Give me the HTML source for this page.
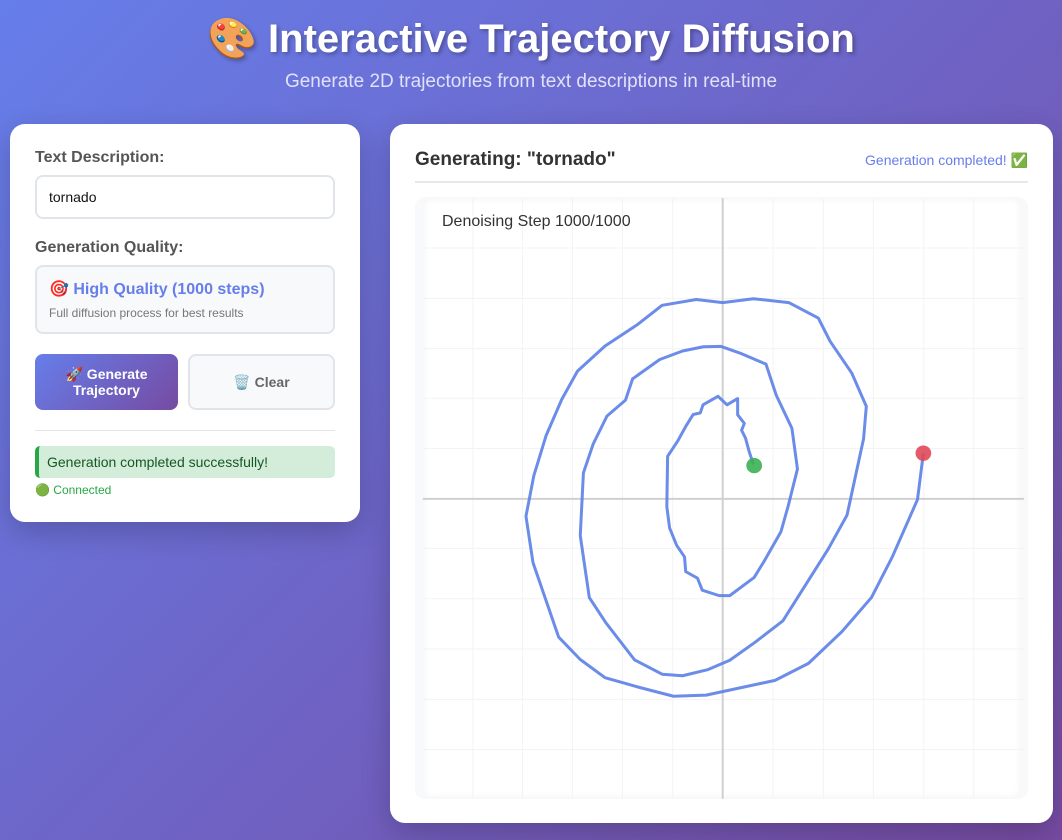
<!DOCTYPE html>
<html><head><meta charset="utf-8"><style>
*{box-sizing:border-box;margin:0;padding:0}
body{width:1062px;height:840px;overflow:hidden;font-family:"Liberation Sans","Noto Sans CJK SC",sans-serif;background:linear-gradient(135deg,#667eea 0%,#764ba2 100%);position:relative}
h1{position:absolute;top:15px;left:0;width:1062px;text-align:center;color:#fff;font-size:40px;font-weight:bold;text-shadow:2px 2px 4px rgba(0,0,0,.3)}
.sub{position:absolute;top:71px;left:0;width:1062px;text-align:center;color:#eef;font-size:19px;opacity:.9}
.card{position:absolute;background:#fff;border-radius:15px;box-shadow:0 10px 30px rgba(0,0,0,.2)}
.lbl{position:absolute;left:25px;font-size:16px;font-weight:bold;color:#555}
.inp{position:absolute;left:25px;width:300px;border:2px solid #e1e5e9;border-radius:8px}
</style></head><body>
<h1>🎨 Interactive Trajectory Diffusion</h1>
<div class="sub">Generate 2D trajectories from text descriptions in real-time</div>
<div class="card" style="left:10px;top:124px;width:350px;height:398px">
 <div class="lbl" style="top:25px">Text Description:</div>
 <div class="inp" style="top:51px;height:44px;padding:12px 12px;font-size:14px;color:#111">tornado</div>
 <div class="lbl" style="top:115px">Generation Quality:</div>
 <div class="inp" style="top:141px;height:69px;background:#f8f9fa;padding:12px 12px">
  <div style="color:#667eea;font-weight:bold;font-size:16px">🎯 High Quality (1000 steps)</div>
  <div style="color:#777;font-size:12px;margin-top:7px">Full diffusion process for best results</div>
 </div>
 <div style="position:absolute;left:25px;top:230px;width:143px;height:56px;border-radius:8px;background:linear-gradient(135deg,#667eea,#764ba2);color:#fff;font-weight:bold;font-size:14px;text-align:center;padding-top:12px;line-height:16px">🚀 Generate<br>Trajectory</div>
 <div style="position:absolute;left:178px;top:230px;width:147px;height:56px;border-radius:8px;background:#f8f9fa;border:2px solid #e1e5e9;color:#666;font-weight:bold;font-size:14px;text-align:center;line-height:52px">🗑️ Clear</div>
 <div style="position:absolute;left:25px;top:306px;width:300px;height:1px;background:#e5e5e5"></div>
 <div style="position:absolute;left:25px;top:322px;width:300px;height:32px;background:#d4edda;border-left:4px solid #28a745;border-radius:5px;color:#155724;font-size:14px;line-height:32px;padding-left:8px">Generation completed successfully!</div>
 <div style="position:absolute;left:25px;top:359px;font-size:12px;color:#28a745">🟢 Connected</div>
</div>
<div class="card" style="left:390px;top:124px;width:663px;height:699px">
 <div style="position:absolute;left:25px;top:25px;font-size:19px;font-weight:bold;color:#333">Generating: "tornado"</div>
 <div style="position:absolute;right:25px;top:28px;font-size:14px;color:#667eea">Generation completed! ✅</div>
 <div style="position:absolute;left:25px;top:57px;width:613px;height:2px;background:#e8e8e8"></div>
 <div style="position:absolute;left:25px;top:73px;width:613px;height:602px;background:#f8f9fa;border-radius:10px"></div>
 <div style="position:absolute;left:33px;top:74px;width:598px;height:600px;background:#fff;border-radius:6px;box-shadow:inset 0 0 8px rgba(0,0,0,.06)"></div>
</div>
<svg style="position:absolute;left:415px;top:195px" width="615" height="605" viewBox="0 0 1563 1563" preserveAspectRatio="none">
 <path vector-effect="non-scaling-stroke" stroke="#f3f3f3" stroke-width="1" d="M147 8V1560M273 8V1560M400 8V1560M527 8V1560M655 8V1560M910 8V1560M1038 8V1560M1165 8V1560M1293 8V1560M1420 8V1560M20 137H1548M20 267H1548M20 397H1548M20 525H1548M20 655H1548M20 913H1548M20 1043H1548M20 1173H1548M20 1303H1548M20 1433H1548"/>
 <path vector-effect="non-scaling-stroke" stroke="#d0d0d0" stroke-width="2" d="M782 8V1560M20 785H1548"/>
 <polyline vector-effect="non-scaling-stroke" fill="none" stroke="#5b7fe6" stroke-width="3" stroke-linejoin="round" stroke-opacity=".9" points="1292,667 1277,787 1213,935 1160,1040 1085,1128 1000,1210 915,1254 740,1292 657,1295 570,1272 483,1247 420,1200 365,1142 300,950 282,830 302,725 333,622 373,528 413,455 483,390 565,335 628,285 715,270 782,278 860,268 950,278 1025,318 1055,378 1110,460 1147,546 1140,630 1098,827 1050,915 935,1100 865,1155 800,1202 745,1226 680,1242 628,1238 558,1201 485,1105 443,1040 420,880 428,718 453,643 488,571 535,530 553,475 622,425 680,403 733,392 777,391 830,410 892,437 918,517 958,603 972,708 948,805 930,870 888,945 862,988 800,1035 773,1035 730,1021 718,990 688,973 685,935 665,905 647,860 640,805 642,675 668,635 688,598 707,567 725,563 732,542 770,520 793,542 820,526 820,568 837,590 830,608 840,628 849,662 860,696"/>
 <ellipse cx="862" cy="699" rx="20" ry="20" fill="#3cb054" fill-opacity=".9"/>
 <ellipse cx="1292" cy="667" rx="20" ry="20" fill="#e04858" fill-opacity=".9"/>
</svg>
<div style="position:absolute;left:442px;top:213px;font-size:16px;color:#333">Denoising Step 1000/1000</div>
</body></html>
